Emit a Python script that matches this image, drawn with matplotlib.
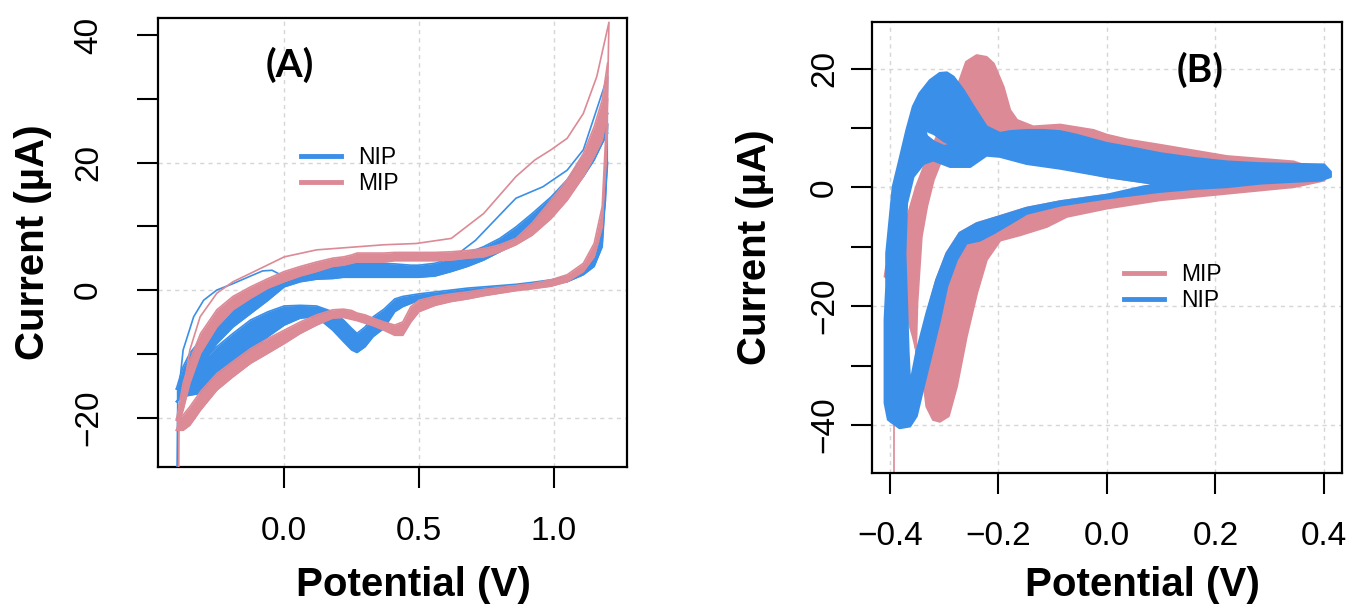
import matplotlib
matplotlib.use("Agg")
import matplotlib.pyplot as plt
from matplotlib.path import Path
from matplotlib.patches import PathPatch
from matplotlib.lines import Line2D
import numpy as np

plt.rcParams['font.family'] = ['Liberation Sans', 'DejaVu Sans']

BLUE = '#3A8FE8'
PINK = '#DB8A96'
GRID = '#d6d6d6'

# ---------------- (A) repeated scans, envelope of each branch ----------------
potential_a = [-0.400, -0.375, -0.350, -0.310, -0.250, -0.190, -0.125, -0.060, 0.000,
               0.060, 0.120, 0.180, 0.220, 0.250, 0.270, 0.300, 0.330, 0.370, 0.410,
               0.440, 0.470, 0.500, 0.560, 0.620, 0.680, 0.740, 0.800, 0.860, 0.920,
               0.990, 1.050, 1.110, 1.150, 1.180, 1.200]

nip_fwd_hi = [-15.5, -12.0, -9.9, -7.8, -4.7, -2.6, -0.5, 1.0, 2.1, 2.9, 3.7, 3.9, 4.1, 4.2,
              4.2, 4.2, 4.2, 4.2, 4.1, 4.0, 3.9, 3.9, 4.2, 5.0, 5.8, 6.8, 8.1, 9.9, 12.0,
              14.6, 17.3, 20.9, 23.5, 25.6, 27.7]
nip_fwd_lo = [-17.5, -16.2, -14.6, -12.0, -8.4, -5.8, -3.7, -1.6, 0.5, 1.3, 1.7, 1.8, 2.0, 2.0,
              2.0, 2.0, 2.0, 2.0, 2.0, 2.0, 2.0, 2.0, 2.2, 2.9, 3.7, 4.7, 6.0, 7.6, 9.4,
              12.0, 14.6, 17.8, 20.4, 23.0, 24.6]
nip_rev_hi = [-15.5, -15.2, -13.6, -11.5, -8.9, -6.8, -4.7, -3.4, -2.5, -2.4, -2.5, -3.4, -4.7,
              -6.0, -6.8, -5.8, -4.2, -3.0, -1.4, -1.0, -0.8, -0.6, -0.3, 0.0, 0.3, 0.5, 0.7,
              0.9, 1.2, 1.6, 2.1, 3.4, 5.2, 9.4, 26.0]
nip_rev_lo = [-17.5, -16.7, -16.5, -16.2, -15.2, -13.1, -9.9, -7.3, -5.5, -4.4, -4.2, -6.3, -8.1,
              -9.4, -9.8, -8.9, -7.3, -6.0, -3.4, -2.6, -2.1, -1.6, -1.2, -0.8, -0.4, -0.1, 0.1,
              0.3, 0.5, 0.9, 1.3, 2.4, 3.7, 6.8, 20.0]

mip_fwd_hi = [-20.4, -14.6, -11.0, -6.8, -3.1, -1.0, 0.5, 1.8, 2.9, 3.7, 4.4, 5.0, 5.2, 5.5,
              5.8, 5.8, 5.8, 5.8, 5.9, 5.9, 5.9, 5.9, 5.9, 6.0, 6.2, 6.5, 7.1, 8.1, 10.5,
              14.1, 17.3, 21.4, 25.6, 29.8, 35.6]
mip_fwd_lo = [-22.0, -18.8, -14.6, -9.9, -5.8, -3.1, -1.3, 0.3, 1.3, 2.2, 2.9, 3.7, 3.9, 4.2,
              4.4, 4.4, 4.4, 4.4, 4.6, 4.6, 4.6, 4.6, 4.6, 4.7, 5.0, 5.2, 6.0, 7.1, 8.6,
              11.2, 14.1, 17.8, 20.9, 23.5, 27.7]
mip_rev_hi = [-20.4, -19.6, -18.3, -15.9, -13.1, -11.2, -9.2, -7.6, -6.3, -5.0, -3.9, -3.1, -3.0,
              -3.2, -3.6, -3.9, -4.4, -5.0, -5.5, -5.0, -2.6, -1.6, -1.0, -0.6, -0.3, 0.1, 0.4,
              0.7, 1.0, 1.6, 2.4, 4.2, 7.3, 13.1, 30.0]
mip_rev_lo = [-22.0, -22.0, -21.2, -18.8, -15.7, -13.6, -11.5, -9.9, -8.4, -6.8, -5.5, -4.4, -4.3,
              -4.6, -4.8, -5.2, -5.6, -6.3, -7.1, -7.1, -5.0, -3.4, -2.4, -1.8, -1.4, -0.9, -0.5,
              -0.1, 0.2, 0.6, 1.3, 2.9, 5.2, 9.9, 26.0]

# first scans, which stray outside the envelopes
nip_first_e = [-0.398, -0.395, -0.375, -0.336, -0.299, -0.250, -0.190, -0.130, -0.080, -0.045,
               0.000, 0.120, 0.250, 0.370, 0.500, 0.590, 0.710, 0.830, 0.860, 0.960, 1.050,
               1.110, 1.200, 1.192, 1.175]
nip_first_i = [-30.0, -17.3, -9.4, -4.2, -1.6, 0.0, 1.0, 2.1, 3.0, 3.1, 2.1, 3.2, 3.5, 3.6, 3.5,
               3.9, 7.8, 13.1, 14.4, 16.2, 18.8, 22.0, 33.5, 14.0, 8.0]
mip_first_e = [-0.392, -0.390, -0.350, -0.312, -0.250, -0.190, -0.126, 0.000, 0.120, 0.370,
               0.490, 0.620, 0.740, 0.860, 0.930, 0.990, 1.050, 1.110, 1.160, 1.205, 1.195, 1.180]
mip_first_i = [-32.0, -19.9, -9.4, -4.2, -0.5, 1.3, 2.6, 5.2, 6.3, 7.1, 7.3, 8.1, 12.0, 17.8,
               20.4, 22.0, 23.8, 27.7, 33.5, 42.0, 20.0, 12.0]

# ---------------- (B) overlaid cycles: outer envelope and enclosed gaps ----------------
nip_b_outer_e = [0.412, 0.400, 0.344, 0.283, 0.221, 0.160, 0.098, 0.037, 0.000, -0.056, -0.086,
                 -0.117, -0.148, -0.179, -0.197, -0.222, -0.246, -0.265, -0.283, -0.295, -0.308,
                 -0.326, -0.345, -0.357, -0.369, -0.382, -0.394, -0.400, -0.406, -0.406, -0.409,
                 -0.409, -0.409, -0.403, -0.382, -0.363, -0.351, -0.338, -0.320, -0.308, -0.295,
                 -0.277, -0.259, -0.234, -0.209, -0.179, -0.148, -0.086, 0.000, 0.098, 0.160,
                 0.221, 0.283, 0.344, 0.393, 0.412]
nip_b_outer_i = [2.6, 3.8, 3.9, 4.0, 4.3, 4.9, 5.7, 6.8, 7.4, 8.8, 9.4, 9.6, 9.6, 9.4, 9.1, 10.2,
                 13.6, 16.4, 18.6, 19.3, 19.2, 18.0, 15.8, 13.6, 9.6, 4.6, 0.1, -5.5, -11.1, -16.7,
                 -22.3, -30.7, -36.3, -39.1, -40.5, -40.2, -38.5, -33.5, -26.8, -22.3, -16.7,
                 -12.2, -9.4, -8.9, -7.7, -6.1, -4.4, -3.0, -1.8, -0.7, -0.2, 0.1, 0.7, 1.0, 1.2,
                 1.8]
nip_b_inner_e = [0.098, 0.037, 0.000, -0.086, -0.148, -0.197, -0.222, -0.252, -0.289, -0.320,
                 -0.338, -0.357, -0.369, -0.372, -0.369, -0.366, -0.363, -0.351, -0.332, -0.314,
                 -0.295, -0.271, -0.240, -0.197, -0.148, -0.086, 0.000, 0.067]
nip_b_inner_i = [0.5, 1.3, 1.8, 3.2, 4.0, 5.2, 5.4, 3.5, 3.5, 4.6, 4.0, 1.8, -2.7, -11.1, -19.5,
                 -27.9, -33.5, -27.9, -21.2, -15.6, -11.1, -7.7, -6.1, -4.9, -3.5, -2.4, -1.3, 0.1]
nip_b_gap_e = [-0.336, -0.318, -0.300, -0.286, -0.300, -0.318, -0.332]
nip_b_gap_i = [9.7, 9.0, 7.8, 7.2, 6.9, 7.6, 8.6]

mip_b_outer_e = [0.406, 0.344, 0.221, 0.098, 0.037, 0.000, -0.025, -0.086, -0.136, -0.166,
                 -0.179, -0.191, -0.209, -0.222, -0.240, -0.259, -0.271, -0.289, -0.308, -0.332,
                 -0.351, -0.369, -0.382, -0.406, -0.409, -0.388, -0.375, -0.357, -0.338, -0.332,
                 -0.320, -0.308, -0.292, -0.277, -0.259, -0.240, -0.222, -0.197, -0.160, -0.111,
                 -0.074, 0.000, 0.098, 0.221, 0.344, 0.400]
mip_b_outer_i = [2.3, 4.3, 5.2, 7.1, 8.0, 8.8, 9.6, 10.5, 10.2, 11.3, 13.0, 16.9, 20.8, 21.9,
                 22.2, 21.1, 18.0, 13.6, 9.6, 4.6, 0.1, -5.5, -10.0, -13.3, -15.0, -16.1, -19.5,
                 -25.1, -32.4, -36.9, -39.1, -39.4, -38.5, -33.5, -25.1, -17.8, -12.2, -8.9, -8.0,
                 -6.6, -4.9, -3.5, -2.1, -1.0, 0.1, 1.2]
mip_b_inner_e = [0.129, 0.000, -0.086, -0.148, -0.191, -0.222, -0.252, -0.283, -0.308, -0.320,
                 -0.332, -0.342, -0.346, -0.350, -0.352, -0.350, -0.330, -0.314, -0.295, -0.271,
                 -0.240, -0.197, -0.148, -0.086, 0.000, 0.098]
mip_b_inner_i = [0.1, 1.8, 3.5, 5.7, 8.0, 8.5, 8.0, 7.4, 4.0, 1.2, -3.2, -8.3, -13.9, -19.5,
                 -26.0, -29.0, -21.0, -15.6, -11.1, -7.7, -6.1, -4.9, -3.5, -2.4, -1.3, -0.5]
mip_b_tail_e = [-0.392, -0.392]
mip_b_tail_i = [-34.0, -52.0]


def ring(pts, ccw):
    """Close a polygon and orient it so holes cut out of the outer envelope."""
    pts = np.asarray(pts, dtype=float)
    x, y = pts[:, 0], pts[:, 1]
    area = 0.5 * np.sum(x * np.roll(y, -1) - np.roll(x, -1) * y)
    if (area > 0) != ccw:
        pts = pts[::-1]
    pts = np.vstack([pts, pts[:1]])
    codes = [Path.MOVETO] + [Path.LINETO] * (len(pts) - 2) + [Path.CLOSEPOLY]
    return pts, codes


def envelope(ax, color, outer, holes, z):
    verts, codes = ring(list(zip(*outer)), True)
    verts, codes = [verts], list(codes)
    for h in holes:
        v, c = ring(list(zip(*h)), False)
        verts.append(v)
        codes += c
    path = Path(np.vstack(verts), codes)
    ax.add_patch(PathPatch(path, facecolor=color, edgecolor=color, lw=2.0,
                           joinstyle='round', zorder=z))


def style(ax, xt, xtl, yt, ytl, xlim, ylim, ypad):
    ax.set_xlim(*xlim)
    ax.set_ylim(*ylim)
    ax.set_xticks(xt)
    ax.set_xticklabels(xtl)
    ax.set_yticks(yt)
    ax.set_yticklabels(ytl, rotation=90, va='center')
    for s in ax.spines.values():
        s.set_linewidth(1.6)
    ax.tick_params(length=15, width=1.5, labelsize=24, colors='black')
    ax.tick_params(axis='x', pad=20)
    ax.tick_params(axis='y', pad=ypad)


fig = plt.figure(figsize=(13.51, 6.04), dpi=100)

# ---------------- panel A ----------------
ax1 = fig.add_axes([0.1172, 0.2268, 0.3469, 0.7434])
grid_kw = dict(color=GRID, lw=1.0, ls=(0, (3, 3)), zorder=0)
for g in [0.0, 0.5, 1.0]:
    ax1.axvline(g, **grid_kw)
for g in [-20, 0, 20]:
    ax1.axhline(g, **grid_kw)

for color, branches, first, z in [
        (BLUE, [(nip_fwd_lo, nip_fwd_hi), (nip_rev_lo, nip_rev_hi)], (nip_first_e, nip_first_i), 2),
        (PINK, [(mip_fwd_lo, mip_fwd_hi), (mip_rev_lo, mip_rev_hi)], (mip_first_e, mip_first_i), 4)]:
    for lo, hi in branches:
        ax1.fill_between(potential_a, lo, hi, color=color, lw=0, zorder=z)
        ax1.plot(potential_a, lo, color=color, lw=1.2, zorder=z)
        ax1.plot(potential_a, hi, color=color, lw=1.2, zorder=z)
    ax1.plot(first[0], first[1], color=color, lw=1.2, zorder=z + 1)

style(ax1, [0.0, 0.5, 1.0], ['0.0', '0.5', '1.0'],
      [-20, -10, 0, 10, 20, 30, 40], ['\u221220', '', '0', '', '20', '', '40'],
      (-0.467, 1.272), (-27.76, 42.67), ypad=24)

ax1.text(290 / 1351, 1 - 65 / 604, '(A)', transform=fig.transFigure, ha='center', va='center',
         fontsize=28, fontweight='bold', family=['Lato', 'DejaVu Sans'])
h_a = [Line2D([], [], color=BLUE, lw=3.5), Line2D([], [], color=PINK, lw=3.5)]
ax1.legend(h_a, ['NIP', 'MIP'], loc='upper left', bbox_to_anchor=(301 / 1351, 1 - 146 / 604),
           bbox_transform=fig.transFigure, frameon=False, fontsize=16.5, handlelength=1.75,
           handletextpad=0.75, labelspacing=0.12, borderpad=0, borderaxespad=0)

# ---------------- panel B ----------------
ax2 = fig.add_axes([0.6454, 0.2174, 0.3479, 0.7467])
for g in [-0.4, -0.2, 0.0, 0.2, 0.4]:
    ax2.axvline(g, **grid_kw)
for g in [-40, -20, 0, 20]:
    ax2.axhline(g, **grid_kw)

envelope(ax2, PINK, (mip_b_outer_e, mip_b_outer_i), [(mip_b_inner_e, mip_b_inner_i)], 2)
ax2.plot(mip_b_tail_e, mip_b_tail_i, color=PINK, lw=1.2, zorder=2)
envelope(ax2, BLUE, (nip_b_outer_e, nip_b_outer_i),
         [(nip_b_inner_e, nip_b_inner_i), (nip_b_gap_e, nip_b_gap_i)], 3)

style(ax2, [-0.4, -0.2, 0.0, 0.2, 0.4], ['\u22120.4', '\u22120.2', '0.0', '0.2', '0.4'],
      [-40, -30, -20, -10, 0, 10, 20], ['\u221240', '', '\u221220', '', '0', '', '20'],
      (-0.433, 0.433), (-48.05, 27.9), ypad=8)

ax2.text(1200 / 1351, 1 - 70 / 604, '(B)', transform=fig.transFigure, ha='center', va='center',
         fontsize=28, fontweight='bold', family=['Lato', 'DejaVu Sans'])
h_b = [Line2D([], [], color=PINK, lw=3.5), Line2D([], [], color=BLUE, lw=3.5)]
ax2.legend(h_b, ['MIP', 'NIP'], loc='upper left', bbox_to_anchor=(1124 / 1351, 1 - 263 / 604),
           bbox_transform=fig.transFigure, frameon=False, fontsize=16.5, handlelength=1.75,
           handletextpad=0.75, labelspacing=0.12, borderpad=0, borderaxespad=0)

# axis titles
lab = dict(fontsize=29, fontweight='bold', ha='center', va='center')
fig.text(413 / 1351, 1 - 585 / 604, 'Potential (V)', **lab)
fig.text(1142 / 1351, 1 - 585 / 604, 'Potential (V)', **lab)
fig.text(33 / 1351, 1 - 242 / 604, 'Current (\u00b5A)', rotation=90, **lab)
fig.text(755 / 1351, 1 - 247 / 604, 'Current (\u00b5A)', rotation=90, **lab)

fig.savefig('out.png', dpi=100)
